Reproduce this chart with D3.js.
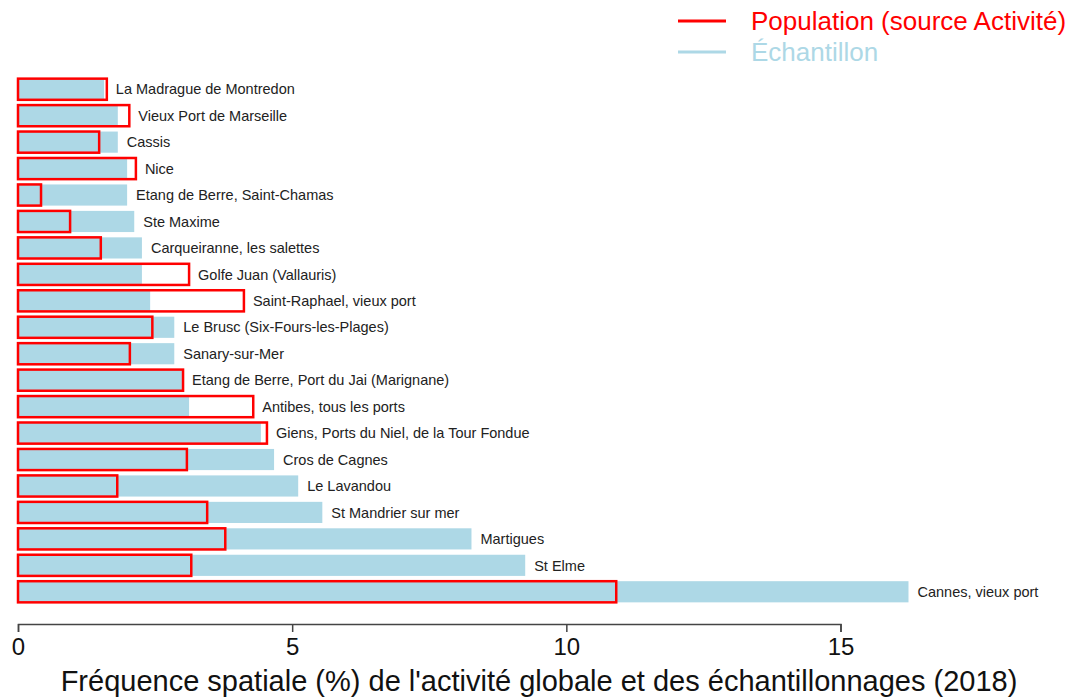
<!DOCTYPE html>
<html>
<head>
<meta charset="utf-8">
<script src="https://cdn.jsdelivr.net/npm/d3@7"></script>
<style>
  body { margin: 0; background: #fff; }
  svg { font-family: "Liberation Sans", Arial, sans-serif; }
</style>
</head>
<body>
<div></div>
<script>
// sites, top to bottom
let sites = [
    "La Madrague de Montredon", "Vieux Port de Marseille", "Cassis", "Nice",
    "Etang de Berre, Saint-Chamas", "Ste Maxime", "Carqueiranne, les salettes",
    "Golfe Juan (Vallauris)", "Saint-Raphael, vieux port", "Le Brusc (Six-Fours-les-Plages)",
    "Sanary-sur-Mer", "Etang de Berre, Port du Jai (Marignane)", "Antibes, tous les ports",
    "Giens, Ports du Niel, de la Tour Fondue", "Cros de Cagnes", "Le Lavandou",
    "St Mandrier sur mer", "Martigues", "St Elme", "Cannes, vieux port"
]
// Échantillon (%)
let echantillon = [1.57, 1.82, 1.82, 1.99, 1.99, 2.12, 2.26, 2.26, 2.41, 2.85,
    2.85, 2.99, 3.12, 4.43, 4.67, 5.11, 5.55, 8.27, 9.25, 16.24]
// Population, source Activité (%)
let population = [1.62, 2.03, 1.48, 2.15, 0.42, 0.95, 1.51, 3.12, 4.12, 2.45,
    2.04, 3.01, 4.29, 4.54, 3.08, 1.81, 3.45, 3.78, 3.16, 10.91]
let xTicks = [0, 5, 10, 15]

let width = 1077
let height = 698

let svg = d3.select("div")
    .append("svg")
    .attr("width", width)
    .attr("height", height)

let data = sites.map((s, i) => ({site: s, ech: echantillon[i], pop: population[i]}))

let x = d3.scaleLinear()
    .domain([0, 15])
    .range([18, 840.5])

let y = d3.scaleBand()
    .domain(sites)
    .range([76, 605])
    .paddingInner(0.2)
    .paddingOuter(0.1)

// blue bars
svg.selectAll("rect.ech")
    .data(data)
    .enter()
    .append("rect")
    .attr("class", "ech")
    .attr("x", x(0))
    .attr("y", d => y(d.site))
    .attr("width", d => x(d.ech) - x(0))
    .attr("height", y.bandwidth())
    .attr("fill", "#add8e6")

// red outlines
svg.selectAll("rect.pop")
    .data(data)
    .enter()
    .append("rect")
    .attr("class", "pop")
    .attr("x", x(0))
    .attr("y", d => y(d.site))
    .attr("width", d => x(d.pop) - x(0))
    .attr("height", y.bandwidth())
    .attr("fill", "none")
    .attr("stroke", "#ff0000")
    .attr("stroke-width", 2.5)

// labels
svg.selectAll("text.lab")
    .data(data)
    .enter()
    .append("text")
    .attr("class", "lab")
    .attr("x", d => x(Math.max(d.ech, d.pop)) + 9)
    .attr("y", d => y(d.site) + y.bandwidth() / 2)
    .attr("dy", "0.36em")
    .attr("font-size", 14.5)
    .attr("fill", "#222")
    .text(d => d.site)

// x axis
let axis = svg.append("g")
    .attr("transform", "translate(0,624)")
    .call(d3.axisBottom(x).tickValues(xTicks).tickSize(8).tickPadding(6).tickFormat(d3.format("d")))
axis.select(".domain").attr("stroke", "#444").attr("stroke-width", 1.5)
axis.selectAll(".tick line").attr("stroke", "#444").attr("stroke-width", 1.5)
axis.selectAll("text")
    .attr("font-size", 24)
    .attr("font-family", "Liberation Sans, Arial, sans-serif")
    .attr("fill", "#111")

svg.append("text")
    .attr("x", 539)
    .attr("y", 691)
    .attr("text-anchor", "middle")
    .attr("font-size", 29)
    .attr("fill", "#111")
    .text("Fréquence spatiale (%) de l'activité globale et des échantillonnages (2018)")

// legend
let legend = [
    {label: "Population (source Activité)", color: "#ff0000"},
    {label: "Échantillon", color: "#add8e6"}
]
let lg = svg.selectAll("g.leg")
    .data(legend)
    .enter()
    .append("g")
    .attr("class", "leg")
    .attr("transform", (d, i) => "translate(0," + (21 + i * 31) + ")")
lg.append("line")
    .attr("x1", 678).attr("x2", 726)
    .attr("stroke", d => d.color)
    .attr("stroke-width", 3)
lg.append("text")
    .attr("x", 751)
    .attr("dy", "0.35em")
    .attr("font-size", 26)
    .attr("fill", d => d.color)
    .text(d => d.label)
</script>
</body>
</html>
